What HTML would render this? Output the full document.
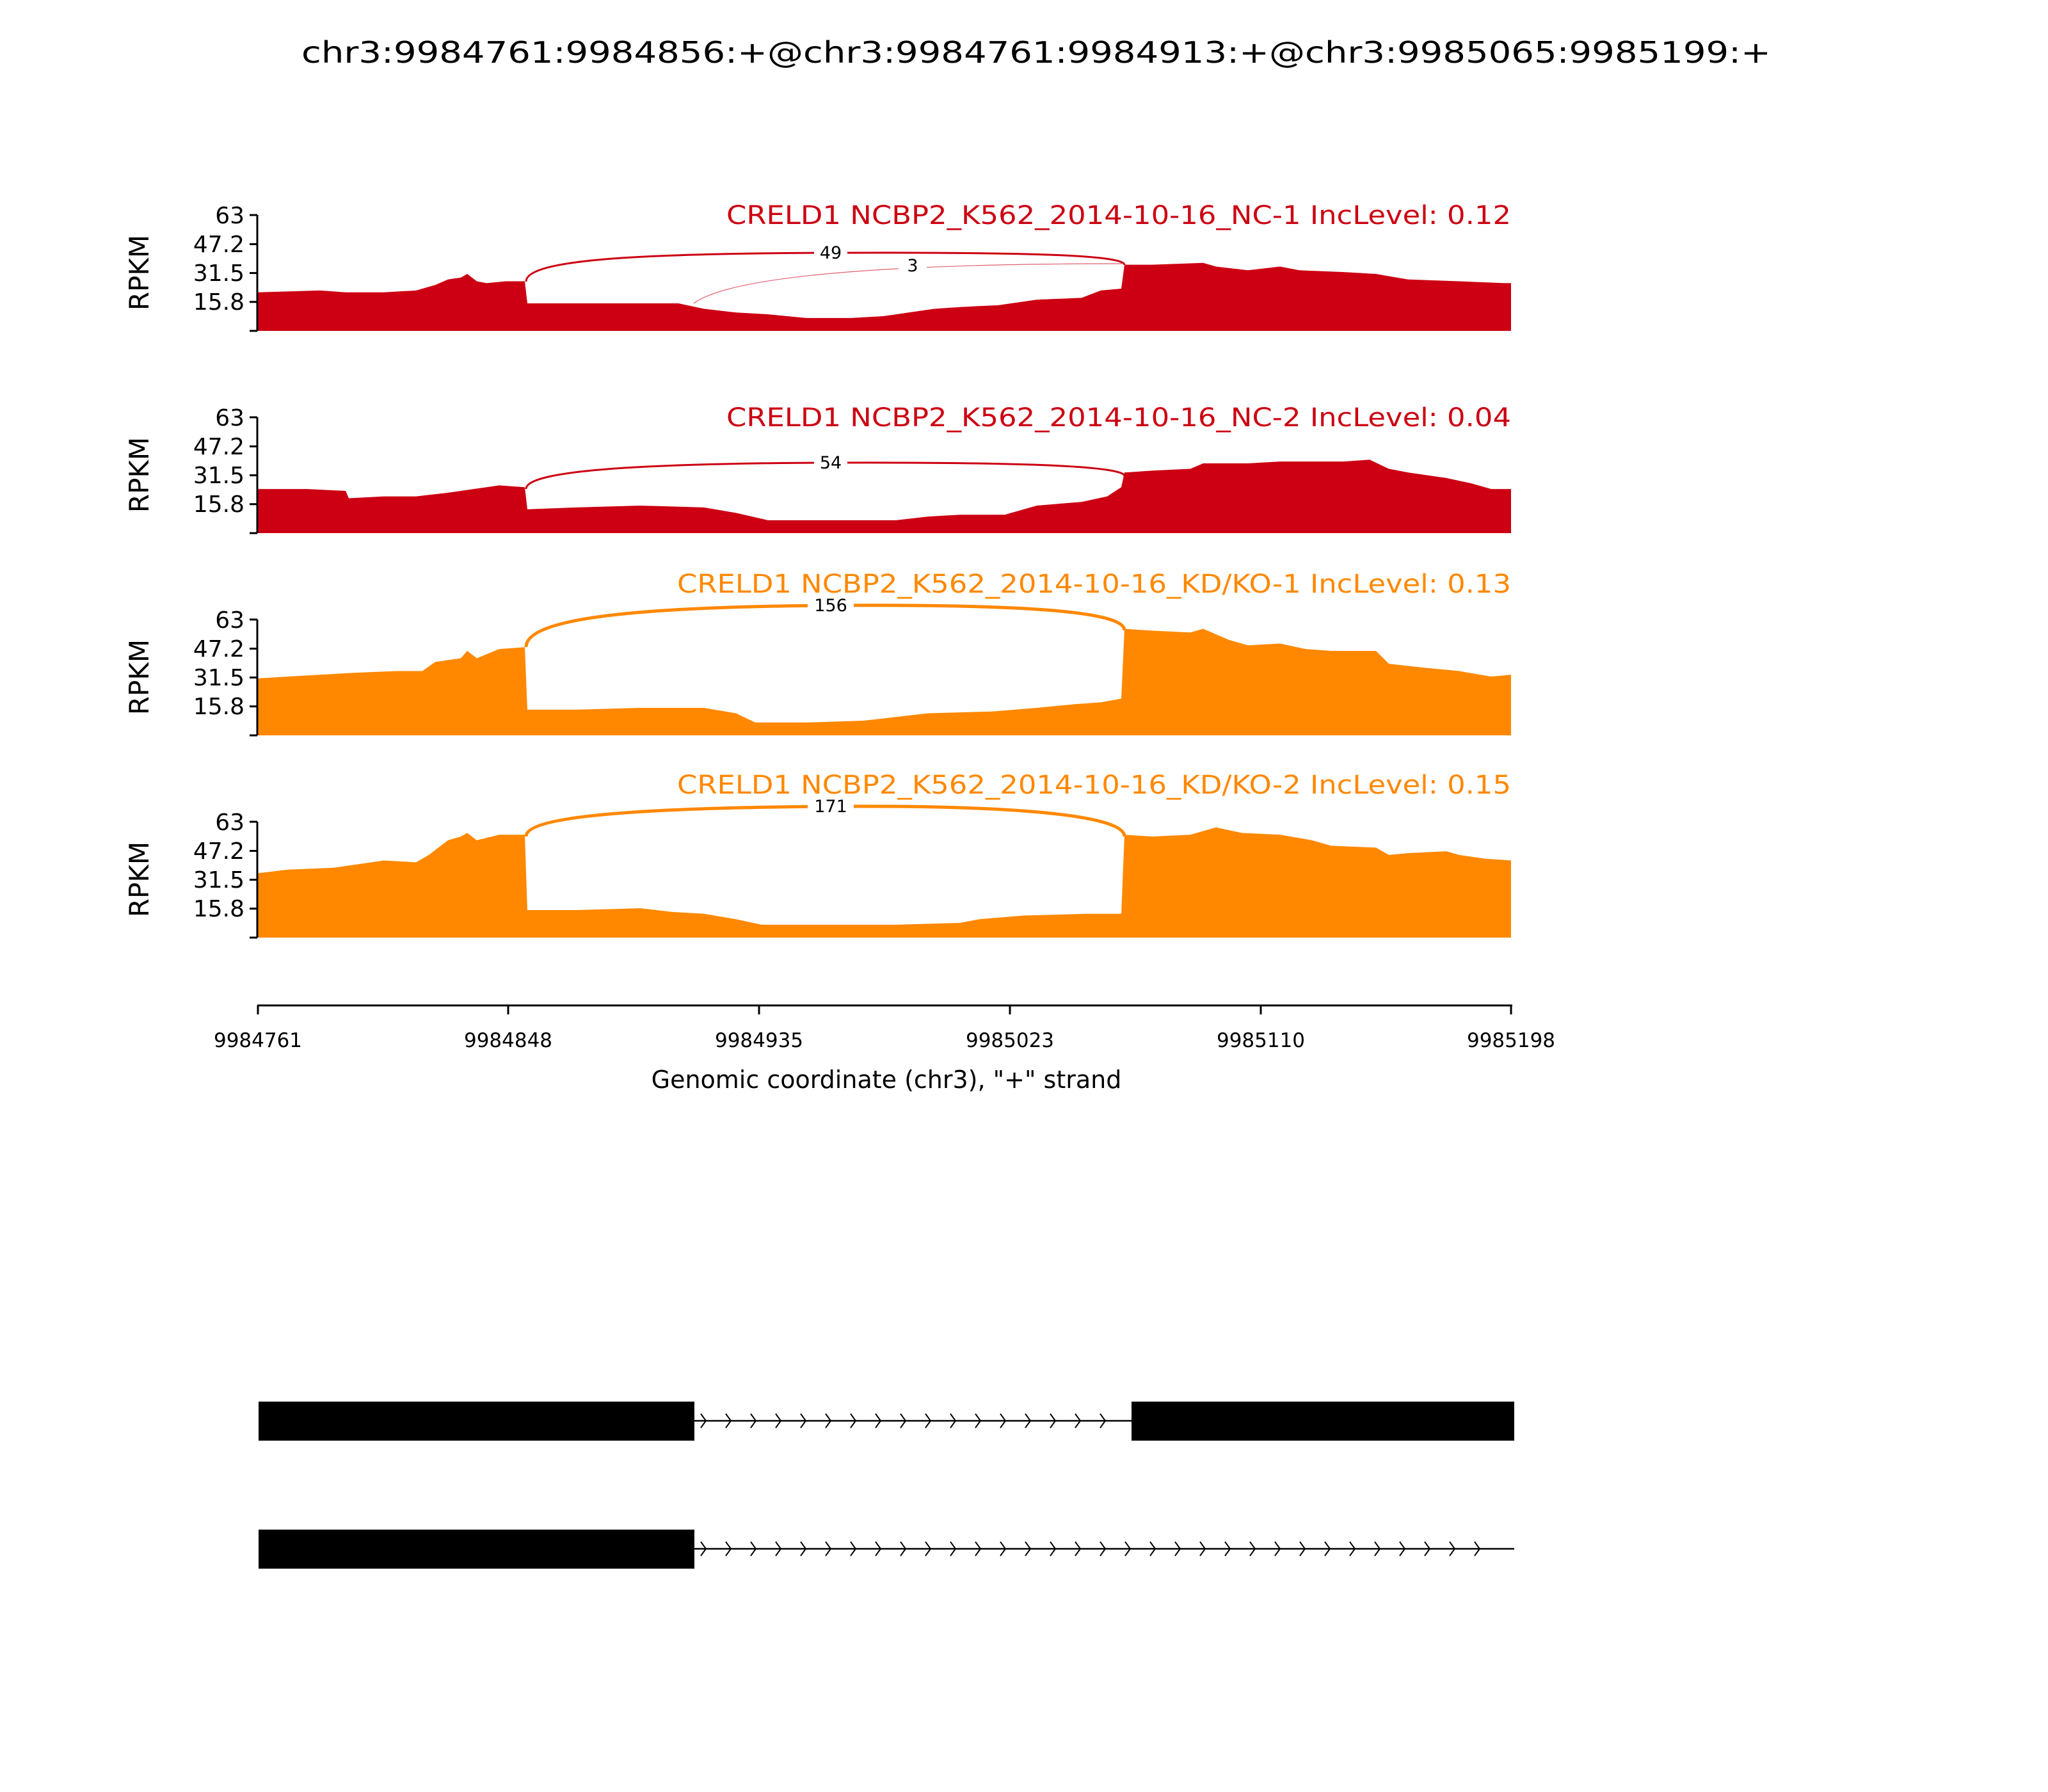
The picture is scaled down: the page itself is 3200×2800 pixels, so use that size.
<!DOCTYPE html>
<html><head><style>
html,body{margin:0;padding:0;background:#fff}
svg{display:block}
text{font-family:"DejaVu Sans","Liberation Sans",sans-serif}
</style></head><body>
<svg width="3200" height="2800" viewBox="0 0 3200 2800" xmlns="http://www.w3.org/2000/svg">
<rect width="3200" height="2800" fill="#fff"/>
<text x="1619" y="98" font-size="46" text-anchor="middle" textLength="2296" lengthAdjust="spacingAndGlyphs">chr3:9984761:9984856:+@chr3:9984761:9984913:+@chr3:9985065:9985199:+</text>

<!-- Panel 1 -->
<g transform="translate(0,517) scale(1,-2.87)">
<polygon fill="#cc0012" points="402,0 402,21 500,22 540,21 600,21 650,22 680,25 700,28 720,29 730,31 745,27 760,26 790,27 820,27 824,15 900,15 1000,15 1060,15 1100,12 1150,10 1200,9 1260,7 1330,7 1380,8 1420,10 1460,12 1500,13 1560,14 1620,17 1690,18 1720,22 1752,23 1757,36 1800,36 1880,37 1900,35 1950,33 2000,35 2030,33 2100,32 2150,31 2200,28 2280,27 2350,26 2361,26 2361,0"/>
</g>
<path d="M822,440 C822,405 1000,396 1300,395 C1600,394 1757,398 1757,414" fill="none" stroke="#cc0012" stroke-width="3"/>
<path d="M1084,474 C1150,425 1450,412 1755,412" fill="none" stroke="#e06070" stroke-width="1.2"/>
<rect x="1272" y="378" width="52" height="32" fill="#fff"/>
<text x="1298" y="404" font-size="27" text-anchor="middle">49</text>
<rect x="1404" y="398" width="44" height="32" fill="#fff"/>
<text x="1426" y="424" font-size="27" text-anchor="middle">3</text>
<text x="2361" y="350" font-size="40" fill="#cc0012" text-anchor="end" textLength="1226" lengthAdjust="spacingAndGlyphs">CRELD1 NCBP2_K562_2014-10-16_NC-1 IncLevel: 0.12</text>

<!-- Panel 2 -->
<g transform="translate(0,833) scale(1,-2.87)">
<polygon fill="#cc0012" points="402,0 402,24 480,24 540,23 545,19 600,20 650,20 700,22 740,24 780,26 820,25 824,13 900,14 1000,15 1100,14 1150,11 1200,7 1300,7 1400,7 1450,9 1500,10 1570,10 1620,15 1690,17 1730,20 1752,25 1757,33 1800,34 1860,35 1880,38 1920,38 1950,38 2000,39 2040,39 2100,39 2140,40 2170,35 2200,33 2260,30 2300,27 2330,24 2361,24 2361,0"/>
</g>
<path d="M822,764 C822,735 1000,724 1300,723 C1600,722 1757,728 1757,744" fill="none" stroke="#cc0012" stroke-width="3"/>
<rect x="1272" y="706" width="52" height="32" fill="#fff"/>
<text x="1298" y="732" font-size="27" text-anchor="middle">54</text>
<text x="2361" y="666" font-size="40" fill="#cc0012" text-anchor="end" textLength="1226" lengthAdjust="spacingAndGlyphs">CRELD1 NCBP2_K562_2014-10-16_NC-2 IncLevel: 0.04</text>

<!-- Panel 3 -->
<g transform="translate(0,1149) scale(1,-2.87)">
<polygon fill="#ff8800" points="402,0 402,31 450,32 500,33 550,34 620,35 660,35 680,40 720,42 730,46 745,42 780,47 820,48 824,14 900,14 1000,15 1100,15 1150,12 1180,7 1260,7 1350,8 1400,10 1450,12 1550,13 1620,15 1680,17 1720,18 1752,20 1757,58 1800,57 1860,56 1880,58 1920,52 1950,49 2000,50 2040,47 2080,46 2110,46 2150,46 2170,39 2220,37 2280,35 2330,32 2361,33 2361,0"/>
</g>
<path d="M822,1011 C822,965 1000,948 1300,946 C1600,944 1757,955 1757,985" fill="none" stroke="#ff8800" stroke-width="5"/>
<rect x="1262" y="928" width="72" height="32" fill="#fff"/>
<text x="1298" y="955" font-size="27" text-anchor="middle">156</text>
<text x="2361" y="926" font-size="40" fill="#ff8800" text-anchor="end" textLength="1303" lengthAdjust="spacingAndGlyphs">CRELD1 NCBP2_K562_2014-10-16_KD/KO-1 IncLevel: 0.13</text>

<!-- Panel 4 -->
<g transform="translate(0,1465) scale(1,-2.87)">
<polygon fill="#ff8800" points="402,0 402,35 450,37 520,38 560,40 600,42 650,41 670,45 700,53 720,55 730,57 745,53 780,56 820,56 824,15 900,15 1000,16 1050,14 1100,13 1150,10 1190,7 1300,7 1400,7 1500,8 1530,10 1600,12 1700,13 1752,13 1757,56 1800,55 1860,56 1900,60 1940,57 2000,56 2050,53 2080,50 2150,49 2170,45 2200,46 2260,47 2280,45 2320,43 2361,42 2361,0"/>
</g>
<path d="M822,1307 C822,1275 1000,1262 1300,1260 C1600,1258 1757,1275 1757,1307" fill="none" stroke="#ff8800" stroke-width="5"/>
<rect x="1262" y="1242" width="72" height="32" fill="#fff"/>
<text x="1298" y="1269" font-size="27" text-anchor="middle">171</text>
<text x="2361" y="1240" font-size="40" fill="#ff8800" text-anchor="end" textLength="1303" lengthAdjust="spacingAndGlyphs">CRELD1 NCBP2_K562_2014-10-16_KD/KO-2 IncLevel: 0.15</text>

<!-- Y axes -->
<g stroke="#000" stroke-width="3" fill="none">
<path d="M402,336 V517 M390,336 H402 M390,381.5 H402 M390,426.6 H402 M390,471.7 H402 M390,517 H402"/>
<path d="M402,652 V833 M390,652 H402 M390,697.5 H402 M390,742.6 H402 M390,787.7 H402 M390,833 H402"/>
<path d="M402,968 V1149 M390,968 H402 M390,1013.5 H402 M390,1058.6 H402 M390,1103.7 H402 M390,1149 H402"/>
<path d="M402,1284 V1465 M390,1284 H402 M390,1329.5 H402 M390,1374.6 H402 M390,1419.7 H402 M390,1465 H402"/>
</g>
<g font-size="36" text-anchor="end">
<text x="382" y="349">63</text><text x="382" y="394">47.2</text><text x="382" y="439">31.5</text><text x="382" y="484">15.8</text>
<text x="382" y="665">63</text><text x="382" y="710">47.2</text><text x="382" y="755">31.5</text><text x="382" y="800">15.8</text>
<text x="382" y="981">63</text><text x="382" y="1026">47.2</text><text x="382" y="1071">31.5</text><text x="382" y="1116">15.8</text>
<text x="382" y="1297">63</text><text x="382" y="1342">47.2</text><text x="382" y="1387">31.5</text><text x="382" y="1432">15.8</text>
</g>
<g font-size="42" text-anchor="middle">
<text transform="translate(232,426) rotate(-90)">RPKM</text>
<text transform="translate(232,742) rotate(-90)">RPKM</text>
<text transform="translate(232,1058) rotate(-90)">RPKM</text>
<text transform="translate(232,1374) rotate(-90)">RPKM</text>
</g>

<!-- X axis -->
<g stroke="#000" stroke-width="3" fill="none">
<path d="M402,1571 H2363 M403,1571 V1585 M794,1571 V1585 M1186,1571 V1585 M1578,1571 V1585 M1970,1571 V1585 M2361,1571 V1585"/>
</g>
<g font-size="31" text-anchor="middle">
<text x="403" y="1636">9984761</text><text x="794" y="1636">9984848</text><text x="1186" y="1636">9984935</text>
<text x="1578" y="1636">9985023</text><text x="1970" y="1636">9985110</text><text x="2361" y="1636">9985198</text>
</g>
<text x="1385" y="1700" font-size="38" text-anchor="middle">Genomic coordinate (chr3), "+" strand</text>

<!-- Gene models -->
<rect x="404" y="2190" width="681" height="61" fill="#000"/>
<rect x="1768" y="2190" width="598" height="61" fill="#000"/>
<line x1="1085" y1="2220" x2="1768" y2="2220" stroke="#000" stroke-width="2.5"/>
<path fill="none" stroke="#000" stroke-width="2" d="M1095,2209 l8,11 l-8,11 M1134,2209 l8,11 l-8,11 M1173,2209 l8,11 l-8,11 M1212,2209 l8,11 l-8,11 M1251,2209 l8,11 l-8,11 M1290,2209 l8,11 l-8,11 M1329,2209 l8,11 l-8,11 M1368,2209 l8,11 l-8,11 M1407,2209 l8,11 l-8,11 M1446,2209 l8,11 l-8,11 M1485,2209 l8,11 l-8,11 M1524,2209 l8,11 l-8,11 M1563,2209 l8,11 l-8,11 M1602,2209 l8,11 l-8,11 M1641,2209 l8,11 l-8,11 M1680,2209 l8,11 l-8,11 M1719,2209 l8,11 l-8,11"/>
<rect x="404" y="2390" width="681" height="61" fill="#000"/>
<line x1="1085" y1="2420" x2="2366" y2="2420" stroke="#000" stroke-width="2.5"/>
<path fill="none" stroke="#000" stroke-width="2" d="M1095,2409 l8,11 l-8,11 M1134,2409 l8,11 l-8,11 M1173,2409 l8,11 l-8,11 M1212,2409 l8,11 l-8,11 M1251,2409 l8,11 l-8,11 M1290,2409 l8,11 l-8,11 M1329,2409 l8,11 l-8,11 M1368,2409 l8,11 l-8,11 M1407,2409 l8,11 l-8,11 M1446,2409 l8,11 l-8,11 M1485,2409 l8,11 l-8,11 M1524,2409 l8,11 l-8,11 M1563,2409 l8,11 l-8,11 M1602,2409 l8,11 l-8,11 M1641,2409 l8,11 l-8,11 M1680,2409 l8,11 l-8,11 M1719,2409 l8,11 l-8,11 M1758,2409 l8,11 l-8,11 M1797,2409 l8,11 l-8,11 M1836,2409 l8,11 l-8,11 M1875,2409 l8,11 l-8,11 M1914,2409 l8,11 l-8,11 M1953,2409 l8,11 l-8,11 M1992,2409 l8,11 l-8,11 M2031,2409 l8,11 l-8,11 M2070,2409 l8,11 l-8,11 M2109,2409 l8,11 l-8,11 M2148,2409 l8,11 l-8,11 M2187,2409 l8,11 l-8,11 M2226,2409 l8,11 l-8,11 M2265,2409 l8,11 l-8,11 M2304,2409 l8,11 l-8,11"/>
</svg>
</body></html>
